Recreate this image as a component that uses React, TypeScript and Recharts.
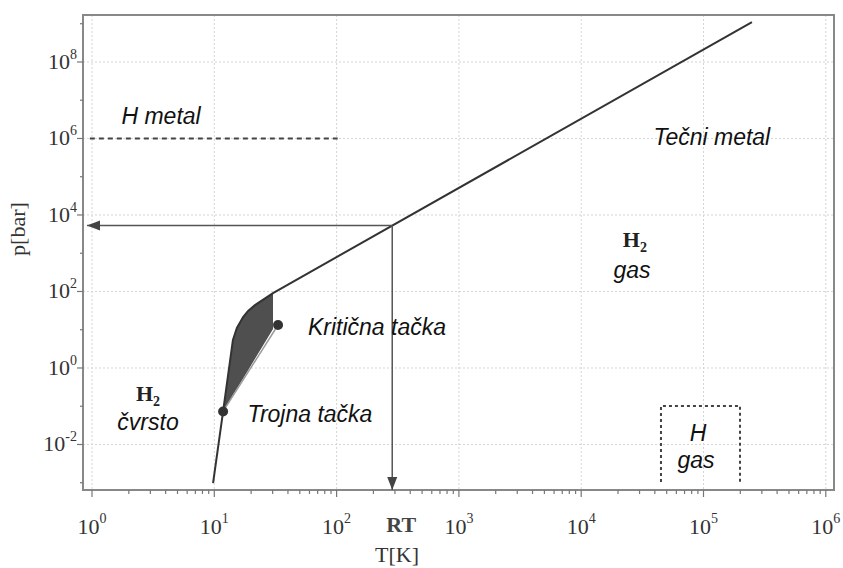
import { ComposedChart, XAxis, YAxis, Line, Area, Scatter, CartesianGrid, ReferenceArea } from 'recharts';

// axis ranges (log scales)
const X_MIN = 0.844;
const X_MAX = 1.167e6;
const Y_MIN = 6.46e-4;
const Y_MAX = 1.69e9;

// tick exponents
const xMajorExp = [0, 1, 2, 3, 4, 5, 6];
const xMinorMult = [2, 3, 4, 5, 6, 7, 8, 9];
const yMajorExp = [-2, 0, 2, 4, 6, 8];
const yMinorExp = [-3, -1, 1, 3, 5, 7, 9];

// phase boundary: sublimation -> melting -> high pressure line
const boundaryT = [9.77, 11.8, 14.2, 15.3, 17.2, 18.9, 21.5, 30.2, 249000];
const boundaryP = [0.00098, 0.073, 5.4, 11.1, 21.5, 31, 44, 91, 1.1e9];

// shaded liquid region (between melting and vaporisation curves)
const fillT = [11.8, 14.2, 15.3, 17.2, 18.9, 21.5, 30.2];
const fillLow = [0.073, 0.2, 0.29, 0.53, 0.87, 1.75, 10.5];
const fillHigh = [0.073, 5.4, 11.1, 21.5, 31, 44, 91];

// vaporisation curve, triple point -> critical point
const vaporT = [11.8, 33.2];
const vaporP = [0.073, 13.3];

// H metal line at 1e6 bar
const metalT = [0.96, 102];
const metalP = [1e6, 1e6];

// H gas box
const hGasT = [44900, 44900, 198800, 198800];
const hGasP = [0.00105, 0.102, 0.102, 0.00105];

// room temperature arrows
const RT = 285;
const RT_P = 5300;
const downT = [RT, RT];
const downP = [RT_P, Y_MIN];
const leftT = [RT, 0.91];
const leftP = [RT_P, RT_P];
const headT = [RT, 0.91];
const headP = [Y_MIN, RT_P];
const headDir = ['down', 'left'];

// region labels
const labelText = ['H metal', 'Tečni metal', 'H2', 'gas', 'H2', 'čvrsto', 'Trojna tačka', 'Kritična tačka', 'H', 'gas'];
const labelT = [3.67, 117000, 27500, 26000, 2.87, 2.87, 60.6, 214, 90200, 86900];
const labelP = [2.4e6, 6.8e5, 1460, 225, 0.14, 0.024, 0.039, 7.3, 0.0124, 0.00243];

const toPts = (ts: number[], ps: number[]) => ts.map((T, i) => ({ T, p: ps[i] }));

const boundary = toPts(boundaryT, boundaryP);
const fillData = fillT.map((T, i) => ({ T, range: [fillLow[i], fillHigh[i]] }));
const vapor = toPts(vaporT, vaporP);
const points = toPts(vaporT, vaporP);
const metal = toPts(metalT, metalP);
const hGas = toPts(hGasT, hGasP);
const down = toPts(downT, downP);
const left = toPts(leftT, leftP);
const heads = headT.map((T, i) => ({ T, p: headP[i], dir: headDir[i] }));
const labels = labelT.map((T, i) => ({ T, p: labelP[i], text: labelText[i] }));

const xTicks = [
  ...xMajorExp.map((e) => Math.pow(10, e)),
  ...xMajorExp.slice(0, -1).flatMap((e) => xMinorMult.map((m) => m * Math.pow(10, e))),
  RT,
];
const yTicks = [...yMajorExp, ...yMinorExp].map((e) => Math.pow(10, e));

const SERIF = '"Liberation Serif", "Times New Roman", serif';
const SANS = '"Liberation Sans", Arial, sans-serif';

const XTick = ({ x, y, payload }: any) => {
  const v = payload.value;
  if (v === RT) {
    return (
      <text x={x + 9} y={y + 42} textAnchor="middle" fontFamily={SERIF} fontWeight="bold" fontSize={22} fill="#444">
        RT
      </text>
    );
  }
  const e = Math.log10(v);
  const major = Math.abs(e - Math.round(e)) < 1e-6;
  return (
    <g>
      <line x1={x} x2={x} y1={y} y2={y + (major ? 7 : 4)} stroke="#777" strokeWidth={1.2} />
      {major && (
        <text x={x} y={y + 44} textAnchor="middle" fontFamily={SERIF} fontSize={22} fill="#333">
          10<tspan dy={-11} fontSize={14}>{Math.round(e)}</tspan>
        </text>
      )}
    </g>
  );
};

const YTick = ({ x, y, payload }: any) => {
  const e = Math.round(Math.log10(payload.value));
  const major = e % 2 === 0;
  return (
    <g>
      <line x1={x - (major ? 6 : 3)} x2={x} y1={y} y2={y} stroke="#777" strokeWidth={1.2} />
      {major && (
        <text x={x - 6} y={y + 7} textAnchor="end" fontFamily={SERIF} fontSize={22} fill="#333">
          10<tspan dy={-10} fontSize={14}>{e}</tspan>
        </text>
      )}
    </g>
  );
};

const LabelShape = (props: any) => {
  const { cx, cy, payload } = props;
  if (payload.text === 'H2') {
    return (
      <text x={cx} y={cy} textAnchor="middle" fontFamily={SERIF} fontWeight="bold" fontSize={22} fill="#222">
        H<tspan dy={5} fontSize={14}>2</tspan>
      </text>
    );
  }
  return (
    <text x={cx} y={cy} textAnchor="middle" fontFamily={SANS} fontStyle="italic" fontSize={23} fill="#111">
      {payload.text}
    </text>
  );
};

const HeadShape = (props: any) => {
  const { cx, cy, payload } = props;
  const pts =
    payload.dir === 'down'
      ? `${cx},${cy} ${cx - 5},${cy - 13} ${cx + 5},${cy - 13}`
      : `${cx},${cy} ${cx + 13},${cy - 5} ${cx + 13},${cy + 5}`;
  return <polygon points={pts} fill="#444" />;
};

const DotShape = (props: any) => <circle cx={props.cx} cy={props.cy} r={5} fill="#333" />;

export default function App() {
  return (
    <div style={{ position: 'absolute', left: 0, top: 0, background: '#fff' }}>
      <ComposedChart width={843} height={568} margin={{ top: 15, right: 9, bottom: 0, left: 0 }}>
        <CartesianGrid
          horizontalValues={yMajorExp.map((e) => Math.pow(10, e))}
          verticalValues={xMajorExp.map((e) => Math.pow(10, e))}
          stroke="#d4d4d4"
          strokeDasharray="2 2"
        />
        <XAxis
          dataKey="T"
          type="number"
          scale="log"
          domain={[X_MIN, X_MAX]}
          allowDataOverflow
          ticks={xTicks}
          interval={0}
          tick={(p: any) => <XTick {...p} />}
          tickLine={false}
          axisLine={false}
          tickSize={0}
          tickMargin={0}
          height={78}
          label={{
            content: (p: any) => {
              const vb = p.viewBox || { x: 83, y: 490 };
              return (
                <text x={vb.x + 314} y={vb.y + 72} textAnchor="middle" fontFamily={SERIF} fontSize={22} fill="#333">
                  T[K]
                </text>
              );
            },
          }}
        />
        <YAxis
          dataKey="p"
          type="number"
          scale="log"
          domain={[Y_MIN, Y_MAX]}
          allowDataOverflow
          ticks={yTicks}
          interval={0}
          tick={(p: any) => <YTick {...p} />}
          tickLine={false}
          axisLine={false}
          tickSize={0}
          tickMargin={0}
          width={83}
          label={{
            content: (p: any) => {
              const vb = p.viewBox || { x: 0, y: 15 };
              const lx = vb.x + 25;
              const ly = vb.y + 214;
              return (
                <text x={lx} y={ly} transform={`rotate(-90, ${lx}, ${ly})`} textAnchor="middle" fontFamily={SERIF} fontSize={22} fill="#333">
                  p[bar]
                </text>
              );
            },
          }}
        />
        <ReferenceArea x1={X_MIN} x2={X_MAX} y1={Y_MIN} y2={Y_MAX} ifOverflow="visible" fill="none" stroke="#888" strokeWidth={2} />
        <Area data={fillData} dataKey="range" type="linear" fill="#4f4f4f" fillOpacity={1} stroke="none" isAnimationActive={false} />
        <Line data={vapor} dataKey="p" type="linear" stroke="#9a9a9a" strokeWidth={1.5} dot={false} isAnimationActive={false} />
        <Line data={boundary} dataKey="p" type="linear" stroke="#333" strokeWidth={2} dot={false} isAnimationActive={false} />
        <Line data={metal} dataKey="p" type="linear" stroke="#444" strokeWidth={2} strokeDasharray="5 4" dot={false} isAnimationActive={false} />
        <Line data={hGas} dataKey="p" type="linear" stroke="#444" strokeWidth={2} strokeDasharray="3 3" dot={false} isAnimationActive={false} />
        <Line data={down} dataKey="p" type="linear" stroke="#555" strokeWidth={1.5} dot={false} isAnimationActive={false} />
        <Line data={left} dataKey="p" type="linear" stroke="#555" strokeWidth={1.5} dot={false} isAnimationActive={false} />
        <Scatter data={heads} shape={HeadShape} isAnimationActive={false} />
        <Scatter data={points} shape={DotShape} isAnimationActive={false} />
        <Scatter data={labels} shape={LabelShape} isAnimationActive={false} />
      </ComposedChart>
    </div>
  );
}
